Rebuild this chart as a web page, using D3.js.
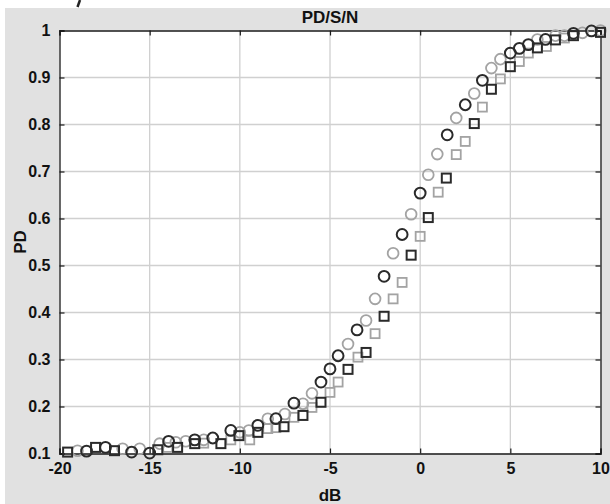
<!DOCTYPE html>
<html>
<head>
<meta charset="utf-8">
<script src="https://cdn.jsdelivr.net/npm/d3@7"></script>
<style>
  html, body { margin: 0; padding: 0; background: #ffffff; }
  svg { display: block; }
  text { font-family: "Liberation Sans", Arial, Helvetica, sans-serif; font-weight: bold; fill: #111; }
</style>
</head>
<body>
<div id="chart"></div>
<script>
// ---------- data ----------
const chartTitle = "PD/S/N";
const xLabel = "dB";
const yLabel = "PD";
const xTicks = [-20, -15, -10, -5, 0, 5, 10];
const yTicks = [0.1, 0.2, 0.3, 0.4, 0.5, 0.6, 0.7, 0.8, 0.9, 1];

// dark circles
const darkCircleDB = [-18.5, -17.45, -16.0, -15.0, -13.95, -12.5, -11.5, -10.5, -9.0, -8.0, -7.0, -5.5, -5.0, -4.55, -3.5, -2.0, -1.0, 0.0, 1.5, 2.5, 3.45, 5.0, 5.5, 6.0, 6.95, 8.5, 9.5];
const darkCirclePD = [0.105, 0.113, 0.103, 0.101, 0.126, 0.129, 0.133, 0.149, 0.160, 0.174, 0.207, 0.252, 0.280, 0.308, 0.363, 0.477, 0.566, 0.654, 0.778, 0.842, 0.894, 0.952, 0.962, 0.970, 0.981, 0.994, 0.999];

// light circles
const lightCircleDB = [-19.0, -16.5, -15.55, -14.45, -13.55, -13.0, -12.0, -10.0, -9.5, -8.45, -7.5, -6.5, -6.0, -4.0, -3.0, -2.5, -1.5, -0.5, 0.45, 0.95, 2.0, 3.0, 3.95, 4.45, 6.5, 7.5, 8.0, 9.0, 10.0];
const lightCirclePD = [0.106, 0.110, 0.110, 0.121, 0.124, 0.126, 0.129, 0.145, 0.149, 0.174, 0.184, 0.206, 0.228, 0.333, 0.383, 0.429, 0.526, 0.609, 0.693, 0.737, 0.814, 0.866, 0.920, 0.939, 0.981, 0.989, 0.989, 0.995, 1.0];

// dark squares
const darkSquareDB = [-19.55, -18.0, -16.95, -14.55, -13.45, -12.5, -11.05, -10.05, -9.0, -7.55, -6.5, -5.5, -4.0, -3.0, -2.0, -0.5, 0.45, 1.45, 3.0, 3.95, 5.0, 6.5, 7.5, 8.5, 10.0];
const darkSquarePD = [0.103, 0.113, 0.106, 0.108, 0.113, 0.121, 0.121, 0.138, 0.145, 0.157, 0.181, 0.209, 0.279, 0.315, 0.392, 0.522, 0.602, 0.686, 0.802, 0.875, 0.923, 0.963, 0.980, 0.989, 0.996];

// light squares
const lightSquareDB = [-14.0, -12.0, -10.5, -9.45, -8.45, -8.0, -7.0, -6.0, -5.0, -4.55, -3.45, -2.5, -1.5, -1.0, 0.0, 1.0, 2.0, 2.5, 3.45, 4.45, 5.5, 6.0, 7.0, 8.0];
const lightSquarePD = [0.113, 0.122, 0.129, 0.129, 0.153, 0.155, 0.177, 0.198, 0.230, 0.252, 0.305, 0.355, 0.429, 0.464, 0.562, 0.656, 0.736, 0.764, 0.837, 0.897, 0.934, 0.952, 0.966, 0.984];

// ---------- layout ----------
const W = 610, H = 504;
const plot = { left: 59.5, right: 600.5, top: 30.5, bottom: 453.5 };

const svg = d3.select("#chart").append("svg")
  .attr("width", W).attr("height", H);

// figure background (grey panel)
svg.append("rect").attr("x", 5).attr("y", 8).attr("width", W - 5).attr("height", H - 8)
  .attr("fill", "#e1e1e1");
// small dark stroke at very top (cropped artefact)
svg.append("line").attr("x1", 80).attr("y1", 0).attr("x2", 77.5).attr("y2", 7)
  .attr("stroke", "#222").attr("stroke-width", 2.5);

const x = d3.scaleLinear().domain([-20, 10]).range([plot.left, plot.right]);
const y = d3.scaleLinear().domain([0.1, 1]).range([plot.bottom, plot.top]);

// plot area
svg.append("rect")
  .attr("x", plot.left).attr("y", plot.top)
  .attr("width", plot.right - plot.left).attr("height", plot.bottom - plot.top)
  .attr("fill", "#ffffff");

// grid
const grid = svg.append("g");
grid.selectAll("line.vx").data(xTicks.slice(1, -1)).join("line")
  .attr("x1", d => x(d)).attr("x2", d => x(d))
  .attr("y1", plot.top).attr("y2", plot.bottom)
  .attr("stroke", "#d0d0d0").attr("stroke-width", 1.3);
grid.selectAll("line.hy").data(yTicks.slice(1, -1)).join("line")
  .attr("x1", plot.left).attr("x2", plot.right)
  .attr("y1", d => y(d)).attr("y2", d => y(d))
  .attr("stroke", "#d0d0d0").attr("stroke-width", 1.3);

// axes (ticks inward, on all four sides)
const tickLen = 5;
const fmtY = d => (d === 1 ? "1" : d.toFixed(1));
const fmtX = d => String(d); // ASCII hyphen minus, as in the original

const axB = svg.append("g").attr("transform", `translate(0,${plot.bottom})`)
  .call(d3.axisBottom(x).tickValues(xTicks).tickSize(-tickLen).tickPadding(9).tickFormat(fmtX));
const axT = svg.append("g").attr("transform", `translate(0,${plot.top})`)
  .call(d3.axisTop(x).tickValues(xTicks).tickSize(-tickLen).tickFormat(""));
const axL = svg.append("g").attr("transform", `translate(${plot.left},0)`)
  .call(d3.axisLeft(y).tickValues(yTicks).tickSize(-tickLen).tickPadding(9).tickFormat(fmtY));
const axR = svg.append("g").attr("transform", `translate(${plot.right},0)`)
  .call(d3.axisRight(y).tickValues(yTicks).tickSize(-tickLen).tickFormat(""));

[axB, axT, axL, axR].forEach(a => {
  a.select(".domain").attr("stroke", "#1a1a1a").attr("stroke-width", 1.3);
  a.selectAll(".tick line").attr("stroke", "#1a1a1a").attr("stroke-width", 1.2);
  a.selectAll("text").attr("font-size", 16).attr("font-weight", "bold")
    .attr("font-family", "'Liberation Sans', Arial, sans-serif").attr("fill", "#111");
});

// markers
const dark = "#2a2a2a", light = "#a3a3a3";
const mk = svg.append("g").attr("fill", "none");

function circles(dbs, pds, color, sw) {
  mk.append("g").selectAll("circle").data(d3.zip(dbs, pds)).join("circle")
    .attr("cx", d => x(d[0])).attr("cy", d => y(d[1])).attr("r", 5.4)
    .attr("stroke", color).attr("stroke-width", sw).attr("fill", "none");
}
function squares(dbs, pds, color, sw) {
  const s = 9;
  mk.append("g").selectAll("rect").data(d3.zip(dbs, pds)).join("rect")
    .attr("x", d => x(d[0]) - s / 2).attr("y", d => y(d[1]) - s / 2)
    .attr("width", s).attr("height", s)
    .attr("stroke", color).attr("stroke-width", sw).attr("fill", "none");
}
circles(lightCircleDB, lightCirclePD, light, 1.8);
squares(lightSquareDB, lightSquarePD, light, 1.8);
circles(darkCircleDB, darkCirclePD, dark, 2);
squares(darkSquareDB, darkSquarePD, dark, 2);

// title & labels
svg.append("text").attr("x", (plot.left + plot.right) / 2).attr("y", 23)
  .attr("text-anchor", "middle").attr("font-size", 17).text(chartTitle);
svg.append("text").attr("x", (plot.left + plot.right) / 2).attr("y", 501)
  .attr("text-anchor", "middle").attr("font-size", 17).text(xLabel);
svg.append("text")
  .attr("transform", `translate(26,${(plot.top + plot.bottom) / 2}) rotate(-90)`)
  .attr("text-anchor", "middle").attr("font-size", 17).text(yLabel);
</script>
</body>
</html>
